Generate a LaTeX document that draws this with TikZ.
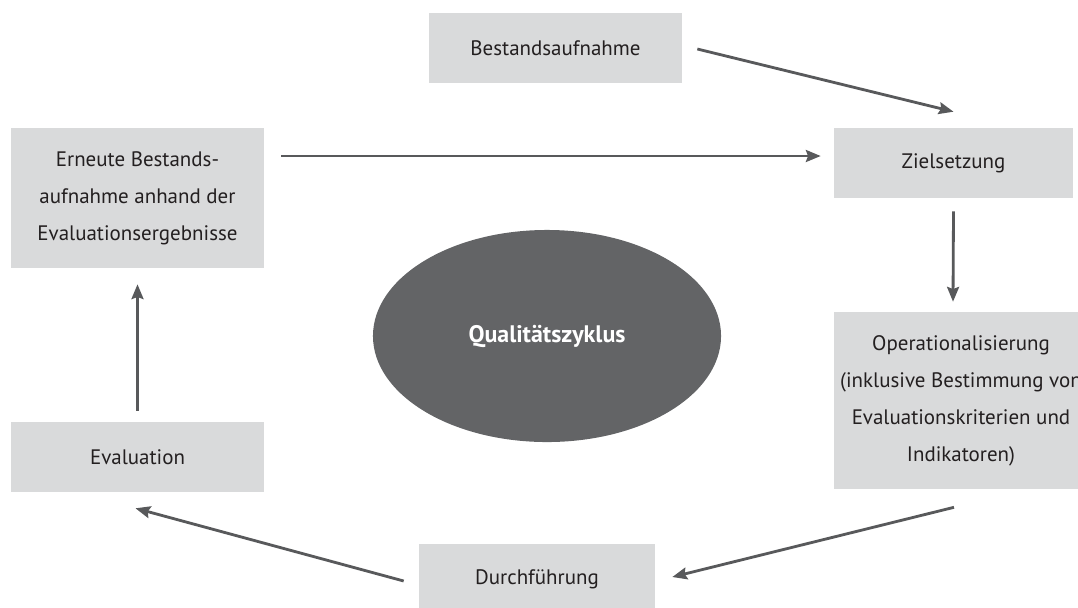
\documentclass[tikz,border=0pt]{standalone}
\usepackage{fontspec}
\setmainfont{PT Sans}
\usepackage{xcolor}
\usepackage{tikz}
\usetikzlibrary{arrows.meta,calc,shapes.geometric}
\definecolor{boxgray}{HTML}{D9DADB}
\definecolor{ellgray}{HTML}{636466}
\definecolor{arrgray}{HTML}{58595B}
\definecolor{txtblack}{HTML}{231F20}
\tikzset{>={Stealth[length=10.5pt,width=8.5pt,inset=1.5pt]}}

\begin{document}
\begin{tikzpicture}[x=0.025cm, y=-0.025cm,
  stage/.style={fill=boxgray, inner sep=0pt, align=center, text=txtblack,
    font=\fontsize{14.9}{26.3}\selectfont},
  flow/.style={->, draw=arrgray, line width=2pt}]
  \useasboundingbox (0,0) rectangle (1078,607);

  % Stages
  \node[stage, minimum width=6.325cm, minimum height=1.75cm] (best) at (555.5,48) {Bestandsaufnahme};
  \node[stage, minimum width=5.975cm, minimum height=1.75cm] (zs) at (953.5,163) {Zielsetzung};
  \node[stage, minimum width=6.35cm, minimum height=4.425cm] (op) at (961,400.5)
       {Operationalisierung\\(inklusive Bestimmung von\\Evaluationskriterien und\\Indikatoren)};
  \node[stage, minimum width=5.9cm, minimum height=1.75cm] (dur) at (537,579) {Durchführung};
  \node[stage, minimum width=6.325cm, minimum height=1.75cm] (eval) at (137.5,457) {Evaluation};
  \node[stage, minimum width=6.325cm, minimum height=3.5cm] (ern) at (137.5,198)
       {Erneute Bestands-\\aufnahme anhand der\\Evaluationsergebnisse};

  % Centre
  \node[ellipse, fill=ellgray, inner sep=0pt, minimum width=8.7cm, minimum height=5.3cm,
        text=white, font=\fontsize{17}{20}\selectfont\bfseries] (zyk) at (547,336) {Qualitätszyklus};

  % Cycle
  \draw[flow] ($(best.east)+(15,1)$) -- ($(zs.north)+(0,-16)$);
  \draw[flow] ($(zs.south)+(0,13)$) -- ($(op.north)+(-8,-10)$);
  \draw[flow] ($(op.south)+(-7,18)$) -- ($(dur.east)+(17,-2)$);
  \draw[flow] ($(dur.west)+(-15,2)$) -- ($(eval.south)+(-2,16)$);
  \draw[flow] ($(eval.north)+(0,-11)$) -- ($(ern.south)+(0,16)$);
  \draw[flow] ($(ern.east)+(17,-42)$) -- ($(zs.west)+(-13,-7)$);
\end{tikzpicture}
\end{document}
